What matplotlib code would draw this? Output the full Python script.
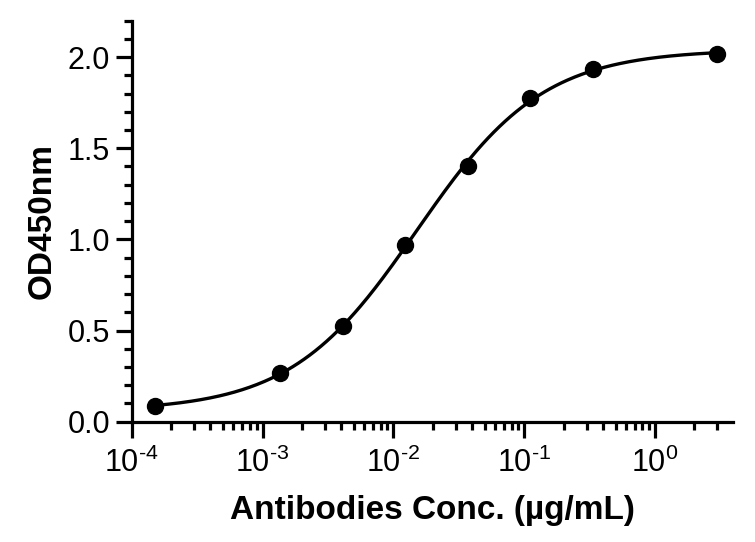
import numpy as np
import matplotlib
matplotlib.use("Agg")
import matplotlib.pyplot as plt
from matplotlib.ticker import LogLocator, MultipleLocator, FormatStrFormatter, NullFormatter, FuncFormatter

plt.rcParams['font.family'] = ['Liberation Sans', 'DejaVu Sans']
plt.rcParams['mathtext.fontset'] = 'custom'
plt.rcParams['mathtext.rm'] = 'Liberation Sans'
plt.rcParams['mathtext.it'] = 'Liberation Sans'
plt.rcParams['mathtext.bf'] = 'Liberation Sans:bold'

# data (3-fold dilution series)
conc = [0.000152, 0.00137, 0.00412, 0.0123, 0.037, 0.111, 0.333, 3.0]
od450 = [0.086, 0.268, 0.524, 0.968, 1.403, 1.775, 1.933, 2.015]


def fit_4pl(x, y):
    # 4-parameter logistic fit: grid over logEC50 / hill, linear solve for bottom/top
    lx = np.log10(np.asarray(x))
    y = np.asarray(y)
    best = None
    for le in np.arange(-3.5, 0.5, 0.005):
        for h in np.arange(0.3, 2.5, 0.01):
            s = 1.0 / (1.0 + 10 ** ((le - lx) * h))
            A = np.column_stack([1 - s, s])
            coef, *_ = np.linalg.lstsq(A, y, rcond=None)
            err = np.sum((A @ coef - y) ** 2)
            if best is None or err < best[0]:
                best = (err, le, h, coef[0], coef[1])
    return best[1:]


def pow10(v, pos):
    e = int(round(np.log10(v)))
    ex = r'\text{-}%d' % abs(e) if e < 0 else '%d' % e
    return r'$\mathregular{10^{%s}}$' % ex


le, h, bottom, top = fit_4pl(conc, od450)
xs = np.logspace(np.log10(conc[0]), np.log10(conc[-1]), 300)
ys = bottom + (top - bottom) / (1 + 10 ** ((le - np.log10(xs)) * h))

fig = plt.figure(figsize=(7.55, 5.42), dpi=100)
ax = fig.add_axes([0.1744, 0.222, 0.7966, 0.740])

ax.plot(xs, ys, color='black', lw=2.4, zorder=2)
ax.plot(conc, od450, 'o', color='black', ms=11.5, zorder=3, clip_on=False)

ax.set_xscale('log')
ax.set_xlim(1e-4, 3.95)
ax.set_ylim(0, 2.2)

ax.xaxis.set_major_locator(LogLocator(base=10, numticks=10))
ax.xaxis.set_minor_locator(LogLocator(base=10, subs=np.arange(2, 10), numticks=20))
ax.xaxis.set_minor_formatter(NullFormatter())
ax.xaxis.set_major_formatter(FuncFormatter(pow10))
ax.yaxis.set_major_locator(MultipleLocator(0.5))
ax.yaxis.set_minor_locator(MultipleLocator(0.1))
ax.yaxis.set_major_formatter(FormatStrFormatter('%.1f'))

for s in ['top', 'right']:
    ax.spines[s].set_visible(False)
for s in ['left', 'bottom']:
    ax.spines[s].set_linewidth(2.3)

ax.tick_params(which='major', length=11.5, width=2.3, labelsize=22)
ax.tick_params(axis='y', which='major', pad=4)
ax.tick_params(axis='x', which='major', pad=7)
ax.tick_params(which='minor', length=6, width=2.3)

ax.set_xlabel('Antibodies Conc. (µg/mL)', fontsize=24, fontweight='bold', labelpad=12)
ax.set_ylabel('OD450nm', fontsize=24, fontweight='bold', labelpad=7)

fig.savefig('out.png', dpi=100)
